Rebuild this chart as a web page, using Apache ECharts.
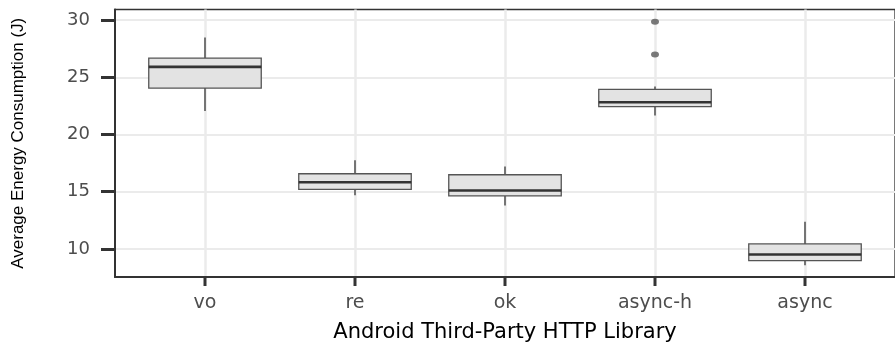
<!DOCTYPE html>
<html><head><meta charset="utf-8">
<script src="https://cdn.jsdelivr.net/npm/echarts@6/dist/echarts.min.js"></script>
<style>html,body{margin:0;padding:0;background:#fff}#c{width:895px;height:348px}</style>
</head><body><div id="c"></div>
<script>
const categories = ['vo', 're', 'ok', 'async-h', 'async'];
const whiskerLow  = [22.05, 14.68, 13.80, 21.66, 8.57];
const q1Values    = [24.06, 15.20, 14.63, 22.43, 8.97];
const medians     = [25.91, 15.83, 15.11, 22.82, 9.51];
const q3Values    = [26.68, 16.57, 16.48, 23.94, 10.43];
const whiskerHigh = [28.48, 17.74, 17.20, 24.19, 12.37];
const outlierCategories = ['async-h', 'async-h'];
const outlierValues = [29.85, 27.0];
const yTicks = [10, 15, 20, 25, 30];

const xPos = categories.map((c, i) => i + 1);
const boxData = categories.map((c, i) => [i + 1, whiskerLow[i], q1Values[i], medians[i], q3Values[i], whiskerHigh[i]]);
const outlierData = outlierCategories.map((c, i) => [categories.indexOf(c) + 1, outlierValues[i]]);

const chart = echarts.init(document.getElementById('c'));
chart.setOption({
  animation: false,
  backgroundColor: '#ffffff',
  grid: { left: 115, top: 9.5, width: 785, bottom: 66, show: true, borderColor: '#333333', borderWidth: 1.3, backgroundColor: 'transparent' },
  xAxis: {
    type: 'value', min: 0.4, max: 5.6, splitNumber: 5, minInterval: 1, maxInterval: 1,
    name: 'Android Third-Party HTTP Library', nameLocation: 'middle', nameGap: 45,
    nameTextStyle: { fontFamily: 'DejaVu Sans', fontSize: 21, color: '#000000' },
    axisLine: { show: true, onZero: false, lineStyle: { color: '#333333', width: 2 } },
    axisTick: { show: false, customValues: xPos },
    axisLabel: { customValues: xPos, margin: 17, fontFamily: 'DejaVu Sans', fontSize: 19, color: '#4d4d4d',
      formatter: v => categories[Math.round(v) - 1] || '' },
    splitLine: { show: true, lineStyle: { color: '#ebebeb', width: 2.5 } }
  },
  yAxis: {
    type: 'value', min: 7.54, max: 30.93,
    name: 'Average Energy Consumption (J)', nameLocation: 'middle', nameGap: 88, nameRotate: 90,
    nameTextStyle: { fontFamily: 'Liberation Sans', fontSize: 17, color: '#000000' },
    axisLine: { show: true, onZero: false, lineStyle: { color: '#333333', width: 2 } },
    axisTick: { show: true, length: 14, customValues: yTicks, lineStyle: { color: '#333333', width: 3 } },
    axisLabel: { customValues: yTicks, margin: 25, fontFamily: 'DejaVu Sans', fontSize: 18, color: '#4d4d4d' },
    splitLine: { show: true, lineStyle: { color: '#ebebeb', width: 2 } }
  },
  series: [
    {
      type: 'custom',
      data: boxData,
      encode: { x: 0, y: [1, 2, 3, 4, 5] },
      clip: false,
      renderItem: function (params, api) {
        const x = api.value(0);
        const lo = api.coord([x, api.value(1)]);
        const b1 = api.coord([x, api.value(2)]);
        const md = api.coord([x, api.value(3)]);
        const b3 = api.coord([x, api.value(4)]);
        const hi = api.coord([x, api.value(5)]);
        const w = api.size([0.75, 0])[0];
        const cs = params.coordSys;
        const bottom = cs.y + cs.height;
        return {
          type: 'group',
          children: [
            { type: 'line', shape: { x1: lo[0], y1: bottom + 1, x2: lo[0], y2: bottom + 9 }, style: { stroke: '#333333', lineWidth: 3 } },
            { type: 'line', shape: { x1: lo[0], y1: lo[1], x2: b1[0], y2: b1[1] }, style: { stroke: '#4d4d4d', lineWidth: 1.5 } },
            { type: 'line', shape: { x1: b3[0], y1: b3[1], x2: hi[0], y2: hi[1] }, style: { stroke: '#4d4d4d', lineWidth: 1.5 } },
            { type: 'rect', shape: { x: b3[0] - w / 2, y: b3[1], width: w, height: b1[1] - b3[1] }, style: { fill: '#e3e3e3', stroke: '#555555', lineWidth: 1.3 } },
            { type: 'line', shape: { x1: md[0] - w / 2, y1: md[1], x2: md[0] + w / 2, y2: md[1] }, style: { stroke: '#333333', lineWidth: 2.6 } }
          ]
        };
      }
    },
    {
      type: 'scatter',
      data: outlierData,
      symbol: 'circle',
      symbolSize: [8, 6],
      itemStyle: { color: '#595959' }
    }
  ]
});
</script>
</body></html>
